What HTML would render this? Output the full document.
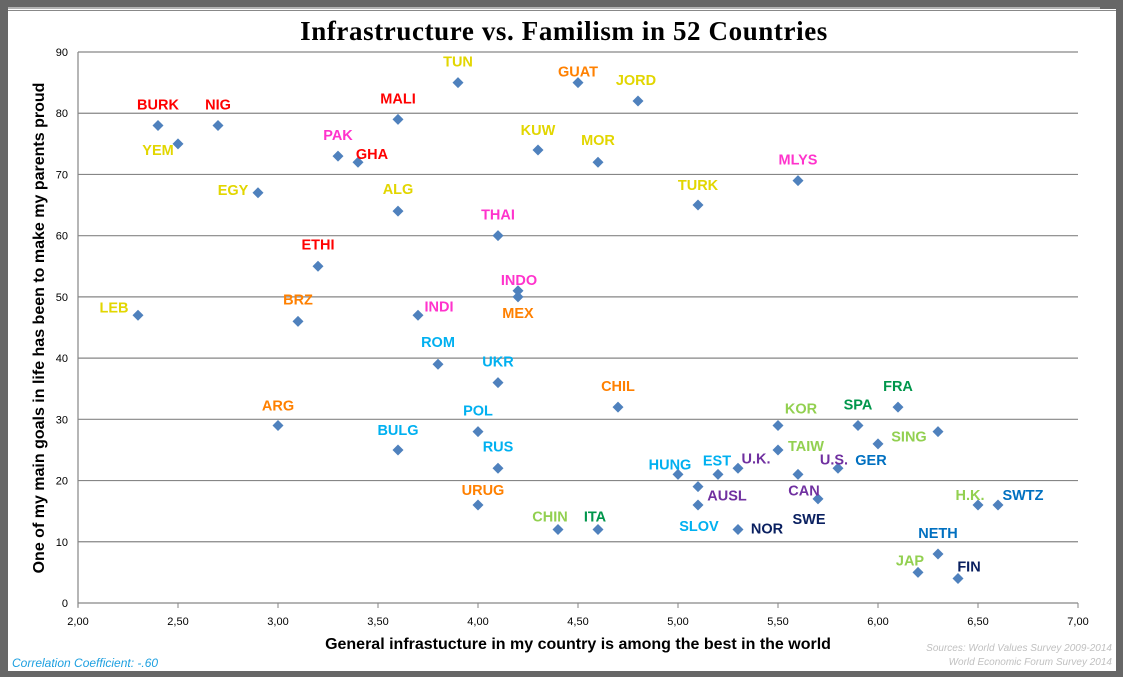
<!DOCTYPE html>
<html><head><meta charset="utf-8"><style>
html,body{margin:0;padding:0;width:1123px;height:677px;overflow:hidden;background:#676767;}
#frame{position:absolute;left:8px;top:9px;width:1108px;height:662px;background:#fff;}
svg{position:absolute;left:0;top:0;}
</style></head><body>
<div id="frame"></div>
<svg id="chart" width="1123" height="677" font-family="'Liberation Sans', sans-serif">
<line x1="8" y1="8" x2="1100" y2="8" stroke="#fff" stroke-width="1"/>
<line x1="8" y1="10.5" x2="1116" y2="10.5" stroke="#888" stroke-width="1"/>
<text x="564" y="40" text-anchor="middle" font-family="'Liberation Serif', serif" font-weight="bold" font-size="27" letter-spacing="0.6" fill="#000">Infrastructure  vs. Familism in 52 Countries</text>
<g id="grid"></g><g id="pts"></g><g id="lbls"></g>
<text transform="translate(44,328) rotate(-90)" text-anchor="middle" font-weight="bold" font-size="16" fill="#000">One of my main goals in life has been to make my parents proud</text>
<text x="578" y="649" text-anchor="middle" font-weight="bold" font-size="16" fill="#000">General infrastucture in my country is among the best in the world</text>
<text x="12" y="667" font-style="italic" font-size="12" fill="#1ea0e0">Correlation Coefficient: -.60</text>
<text x="1112" y="651" text-anchor="end" font-style="italic" font-size="10" fill="#c0c0c0">Sources: World Values Survey 2009-2014</text>
<text x="1112" y="665" text-anchor="end" font-style="italic" font-size="10" fill="#c0c0c0">World Economic Forum Survey 2014</text>
</svg>
<script>
const countries=["BURK","YEM","NIG","EGY","LEB","ETHI","BRZ","ARG","PAK","GHA","MALI","ALG","TUN","INDI","ROM","BULG","POL","UKR","RUS","URUG","THAI","INDO","MEX","KUW","GUAT","JORD","MOR","CHIN","ITA","CHIL","TURK","MLYS","HUNG","AUSL","SLOV","EST","U.K.","NOR","KOR","TAIW","CAN","SWE","U.S.","SPA","GER","FRA","SING","H.K.","SWTZ","NETH","JAP","FIN"];
const infraValues=[2.4,2.5,2.7,2.9,2.3,3.2,3.1,3.0,3.3,3.4,3.6,3.6,3.9,3.7,3.8,3.6,4.0,4.1,4.1,4.0,4.1,4.2,4.2,4.3,4.5,4.8,4.6,4.4,4.6,4.7,5.1,5.6,5.0,5.1,5.1,5.2,5.3,5.3,5.5,5.5,5.6,5.7,5.8,5.9,6.0,6.1,6.3,6.5,6.6,6.3,6.2,6.4];
const proudValues=[78,75,78,67,47,55,46,29,73,72,79,64,85,47,39,25,28,36,22,16,60,51,50,74,85,82,72,12,12,32,65,69,21,19,16,21,22,12,29,25,21,17,22,29,26,32,28,16,16,8,5,4];
const groups=["red","yel","red","yel","yel","red","ora","ora","mag","red","red","yel","yel","mag","cya","cya","cya","cya","cya","ora","mag","mag","ora","yel","ora","yel","yel","lgr","grn","ora","yel","mag","cya","pur","cya","cya","pur","nav","lgr","lgr","pur","nav","pur","grn","blu","grn","lgr","lgr","blu","blu","lgr","nav"];
const xTicks=[2,2.5,3,3.5,4,4.5,5,5.5,6,6.5,7];
const yTicks=[0,10,20,30,40,50,60,70,80,90];
// label offsets (layout, px)
const offs=[[0,-21],[-20,6],[0,-21],[-25,-3],[-24,-8],[0,-22],[0,-22],[0,-20],[0,-21],[14,-8],[0,-21],[0,-22],[0,-21],[21,-9],[0,-22],[0,-20],[0,-21],[0,-21],[0,-22],[5,-15],[0,-21],[1,-11],[0,16],[0,-20],[0,-11],[-2,-21],[0,-22],[-8,-13],[-3,-13],[0,-21],[0,-20],[0,-21],[-8,-10],[29,9],[1,21],[-1,-14],[18,-10],[29,-1],[23,-17],[28,-4],[6,16],[-9,20],[-4,-9],[0,-21],[-7,16],[0,-21],[-29,5],[-8,-10],[25,-10],[0,-21],[-8,-12],[11,-12]];
const colors={red:"#ff0000",yel:"#e2d600",mag:"#ff33cc",ora:"#ff8000",cya:"#00b0f0",lgr:"#92d050",grn:"#00964b",pur:"#7030a0",nav:"#0a2060",blu:"#0070c0"};
const X0=78,X1=1078,Y0=603,Y1=52;
const sx=v=>X0+(v-2)/5*(X1-X0);
const sy=v=>Y0-v/90*(Y0-Y1);
const NS="http://www.w3.org/2000/svg";
function mk(t,a,p){const e=document.createElementNS(NS,t);for(const k in a)e.setAttribute(k,a[k]);p.appendChild(e);return e;}
const grid=document.getElementById('grid');
yTicks.forEach(v=>{
  const l=mk('line',{x1:X0,x2:X1,y1:sy(v),y2:sy(v),stroke:'#868686','stroke-width':1.2},grid);
  
  
  const t=mk('text',{x:X0-10,y:sy(v)+4,'text-anchor':'end','font-size':11,fill:'#000'},grid);
  t.textContent=v;
  
  
});
const ax=mk('line',{x1:X0,x2:X0,y1:Y1,y2:Y0+4,stroke:'#868686','stroke-width':1.2},grid);


xTicks.forEach(v=>{
  const tk=mk('line',{x1:sx(v),x2:sx(v),y1:Y0,y2:Y0+5,stroke:'#868686'},grid);
  
  
  const t=mk('text',{x:sx(v),y:Y0+22,'text-anchor':'middle','font-size':11,fill:'#000'},grid);
  t.textContent=v.toFixed(2).replace('.',',');
  
  
});
const pts=document.getElementById('pts'),lbls=document.getElementById('lbls');
countries.forEach((c,i)=>{
  const x=sx(infraValues[i]),y=sy(proudValues[i]);
  const d=mk('polygon',{points:`${x},${y-5.5} ${x+5.5},${y} ${x},${y+5.5} ${x-5.5},${y}`,fill:'#4f81bd'},pts);
  
  
  const t=mk('text',{x:x+offs[i][0],y:y+offs[i][1]+5,'text-anchor':'middle','font-size':14.5,'font-weight':'bold',fill:colors[groups[i]]},lbls);
  t.textContent=c;
  
  
});
</script>
</body></html>
